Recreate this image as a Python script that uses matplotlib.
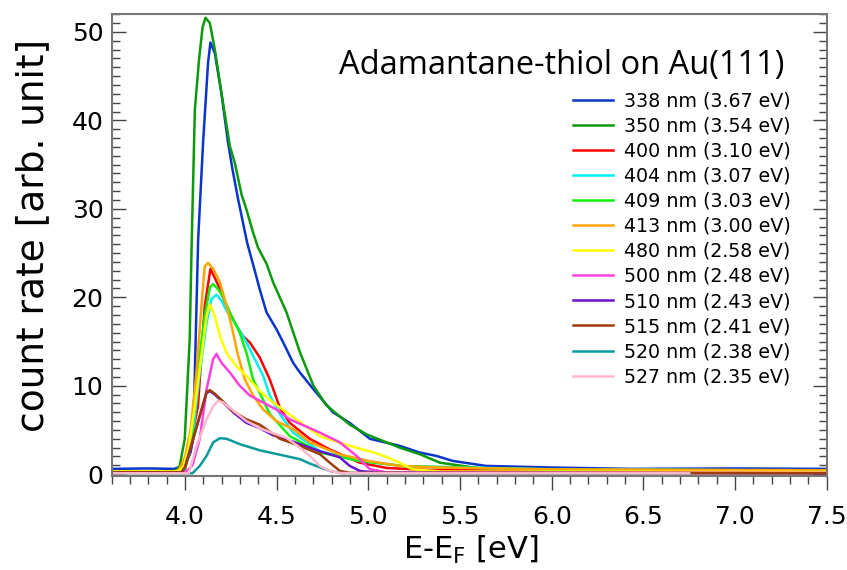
import matplotlib
matplotlib.use("Agg")
import matplotlib.pyplot as plt
from matplotlib.ticker import MultipleLocator, FormatStrFormatter

plt.rcParams['font.family'] = ['DejaVu Sans']

# Photoemission spectra, one per excitation wavelength.
LABELS = ["338 nm (3.67 eV)", "350 nm (3.54 eV)", "400 nm (3.10 eV)", "404 nm (3.07 eV)",
          "409 nm (3.03 eV)", "413 nm (3.00 eV)", "480 nm (2.58 eV)", "500 nm (2.48 eV)",
          "510 nm (2.43 eV)", "515 nm (2.41 eV)", "520 nm (2.38 eV)", "527 nm (2.35 eV)"]
COLORS = ["#0a35cc", "#0b9a0b", "#ff0000", "#00f0f0", "#10f010", "#ffa500",
          "#ffff00", "#ff40dd", "#6a10cc", "#a03c0a", "#0a9a9a", "#ffb8cc"]

E_338 = [3.6, 3.8, 3.94, 4.0, 4.03, 4.044, 4.071, 4.098, 4.125, 4.138, 4.162, 4.198, 4.234, 4.258,
         4.289, 4.316, 4.338, 4.38, 4.407, 4.444, 4.498, 4.535, 4.589, 4.626, 4.70, 4.806, 4.898,
         5.008, 5.171, 5.28, 5.37, 5.46, 5.64, 6.0, 6.44, 7.0, 7.5]
Y_338 = [0.6, 0.65, 0.6, 1.0, 2.5, 4.0, 26.5, 37.5, 46.5, 48.8, 47.6, 43.1, 37.5, 34.5,
         31.1, 28.4, 26.2, 23.0, 20.9, 18.3, 16.4, 14.9, 12.6, 11.5, 9.6, 7.0, 5.8,
         4.0, 3.2, 2.45, 2.07, 1.5, 0.94, 0.75, 0.6, 0.65, 0.6]

E_350 = [3.6, 3.9, 3.95, 3.97, 3.998, 4.025, 4.035, 4.053, 4.076, 4.095, 4.111, 4.135, 4.162, 4.198,
         4.244, 4.271, 4.308, 4.335, 4.371, 4.398, 4.444, 4.48, 4.553, 4.626, 4.70, 4.77, 4.898,
         4.99, 5.171, 5.28, 5.39, 5.64, 6.0, 6.5, 7.0, 7.5]
Y_350 = [0.3, 0.3, 0.4, 0.9, 4.0, 15.3, 25.4, 41.2, 46.9, 50.5, 51.6, 51.0, 48.0, 43.1,
         37.1, 35.2, 31.6, 29.9, 27.3, 25.6, 23.8, 21.7, 18.3, 13.8, 10.0, 7.8, 5.6,
         4.5, 3.0, 2.26, 1.3, 0.56, 0.35, 0.3, 0.3, 0.3]

E_400 = [3.6, 3.95, 3.97, 4.0, 4.03, 4.07, 4.107, 4.138, 4.162, 4.19, 4.234, 4.28, 4.316, 4.353,
         4.407, 4.462, 4.517, 4.571, 4.68, 4.789, 4.953, 5.1, 5.3, 6.0, 7.5]
Y_400 = [0.3, 0.3, 0.5, 1.5, 3.5, 7.7, 19.0, 23.2, 22.2, 20.9, 18.6, 16.8, 15.6, 14.9,
         13.2, 10.7, 7.5, 5.8, 4.0, 2.8, 1.3, 0.7, 0.5, 0.4, 0.3]

E_404 = [3.6, 3.98, 4.0, 4.04, 4.08, 4.117, 4.144, 4.171, 4.198, 4.226, 4.253, 4.298, 4.335, 4.38,
         4.407, 4.426, 4.462, 4.517, 4.589, 4.735, 4.953, 5.2, 6.0, 7.5]
Y_404 = [0.3, 0.3, 0.6, 4.0, 11.5, 17.1, 19.8, 20.3, 19.6, 18.5, 17.7, 16.2, 14.9, 13.0,
         11.9, 11.1, 8.9, 6.8, 4.7, 2.6, 1.5, 0.9, 0.55, 0.4]

E_409 = [3.6, 3.98, 4.0, 4.035, 4.07, 4.107, 4.135, 4.153, 4.18, 4.208, 4.253, 4.298, 4.335, 4.371,
         4.407, 4.462, 4.571, 4.735, 4.95, 5.2, 6.0, 7.5]
Y_409 = [0.3, 0.3, 0.6, 4.0, 11.9, 17.9, 21.1, 21.5, 20.9, 20.0, 17.9, 16.0, 13.7, 10.7,
         9.2, 6.8, 4.3, 2.45, 1.5, 0.9, 0.5, 0.4]

E_413 = [3.6, 3.95, 3.97, 4.0, 4.03, 4.062, 4.089, 4.107, 4.125, 4.153, 4.19, 4.226, 4.253, 4.289,
         4.326, 4.371, 4.426, 4.498, 4.589, 4.68, 4.84, 5.0, 5.17, 5.39, 6.0, 7.5]
Y_413 = [0.3, 0.3, 0.6, 2.0, 5.0, 11.5, 19.0, 23.5, 23.9, 23.2, 21.7, 19.0, 16.8, 13.4,
         10.7, 8.9, 7.3, 6.0, 5.1, 3.6, 2.26, 1.5, 0.94, 0.75, 0.55, 0.45]

E_480 = [3.6, 3.96, 3.99, 4.02, 4.053, 4.089, 4.117, 4.135, 4.162, 4.19, 4.226, 4.28, 4.335, 4.407,
         4.48, 4.553, 4.626, 4.735, 4.898, 5.06, 5.17, 5.24, 5.4, 7.5]
Y_480 = [0.3, 0.3, 0.8, 3.0, 7.7, 13.4, 17.9, 19.2, 17.9, 15.6, 13.7, 12.2, 11.1, 9.4,
         8.1, 7.0, 5.9, 4.3, 3.2, 2.26, 1.3, 0.56, 0.3, 0.25]

E_500 = [3.6, 4.0, 4.04, 4.08, 4.117, 4.153, 4.171, 4.198, 4.244, 4.298, 4.353, 4.426, 4.498, 4.571,
         4.735, 4.844, 4.935, 5.008, 5.1, 7.5]
Y_500 = [0.2, 0.2, 1.0, 4.0, 9.6, 13.0, 13.6, 12.6, 11.5, 10.0, 8.9, 8.1, 7.3, 6.2,
         4.7, 3.6, 2.07, 0.56, 0.2, 0.15]

E_510 = [3.6, 3.98, 4.0, 4.044, 4.08, 4.117, 4.135, 4.162, 4.208, 4.262, 4.335, 4.407, 4.48, 4.517,
         4.626, 4.735, 4.789, 4.844, 4.898, 4.953, 5.05, 7.5]
Y_510 = [0.2, 0.2, 0.8, 4.0, 6.6, 9.2, 9.4, 9.0, 8.1, 7.0, 5.8, 5.2, 4.4, 4.2,
         3.4, 2.6, 2.26, 1.9, 0.94, 0.37, 0.15, 0.1]

E_515 = [3.6, 3.98, 4.0, 4.044, 4.08, 4.117, 4.135, 4.162, 4.208, 4.262, 4.335, 4.407, 4.517, 4.626,
         4.735, 4.789, 4.844, 4.9, 7.5]
Y_515 = [0.2, 0.2, 0.8, 4.0, 6.6, 9.3, 9.5, 9.1, 8.2, 7.1, 6.2, 5.6, 4.0, 3.2,
         2.26, 1.3, 0.37, 0.15, 0.1]

E_520 = [3.6, 4.04, 4.08, 4.117, 4.153, 4.19, 4.226, 4.298, 4.407, 4.517, 4.626, 4.68, 4.79, 4.85, 6.75]
Y_520 = [0.1, 0.1, 0.94, 2.07, 3.6, 4.07, 4.0, 3.4, 2.7, 2.2, 1.7, 1.2, 0.37, 0.12, 0.1]

E_527 = [3.6, 4.02, 4.062, 4.117, 4.153, 4.18, 4.208, 4.262, 4.335, 4.407, 4.444, 4.553, 4.626, 4.68,
         4.735, 4.79, 4.85, 6.75]
Y_527 = [0.1, 0.1, 3.2, 6.2, 7.7, 8.3, 8.1, 7.2, 6.0, 5.2, 4.9, 4.1, 3.0, 2.07,
         0.94, 0.37, 0.12, 0.1]

SPECTRA = [(E_338, Y_338), (E_350, Y_350), (E_400, Y_400), (E_404, Y_404),
           (E_409, Y_409), (E_413, Y_413), (E_480, Y_480), (E_500, Y_500),
           (E_510, Y_510), (E_515, Y_515), (E_520, Y_520), (E_527, Y_527)]

fig = plt.figure(figsize=(8.47, 5.70), dpi=100)
ax = fig.add_axes([0.132, 0.165, 0.844, 0.81])

for (e, y), color, label in zip(SPECTRA, COLORS, LABELS):
    ax.plot(e, y, color=color, lw=1.8, label=label)

ax.set_xlim(3.6, 7.5)
ax.set_ylim(-0.2, 52)

ax.xaxis.set_major_locator(MultipleLocator(0.5))
ax.xaxis.set_minor_locator(MultipleLocator(0.1))
ax.yaxis.set_major_locator(MultipleLocator(10))
ax.yaxis.set_minor_locator(MultipleLocator(1))
ax.xaxis.set_major_formatter(FormatStrFormatter("%.1f"))

ax.tick_params(axis="x", which="both", direction="out", colors="#444444", labelcolor="black",
               labelsize=18, pad=11)
ax.tick_params(axis="x", which="major", length=10, width=1)
ax.tick_params(axis="x", which="minor", length=6, width=1)
ax.tick_params(axis="y", which="both", direction="in", right=True, colors="#444444",
               labelcolor="black", labelsize=18, pad=6)
ax.tick_params(axis="y", which="major", length=10, width=1)
ax.tick_params(axis="y", which="minor", length=6, width=1)
for spine in ax.spines.values():
    spine.set_color("#777777")
    spine.set_linewidth(1.5)

ax.set_xlabel("E-E$_\\mathregular{F}$ [eV]", fontsize=22, va="center")
ax.set_ylabel("count rate [arb. unit]", fontsize=27, va="center", ha="center")
ax.xaxis.set_label_coords(0.502, -0.16)
ax.yaxis.set_label_coords(-0.11, 0.52)

ax.text(0.941, 0.89, "Adamantane-thiol on Au(111)", transform=ax.transAxes,
        ha="right", va="center", fontsize=23.5, family="Open Sans")

ax.legend(loc="upper left", bbox_to_anchor=(0.645, 0.833), frameon=False, fontsize=13.7,
          handlelength=2.1, handletextpad=0.57, labelspacing=0.32, borderaxespad=0,
          borderpad=0)

fig.savefig("out.png", dpi=100)
